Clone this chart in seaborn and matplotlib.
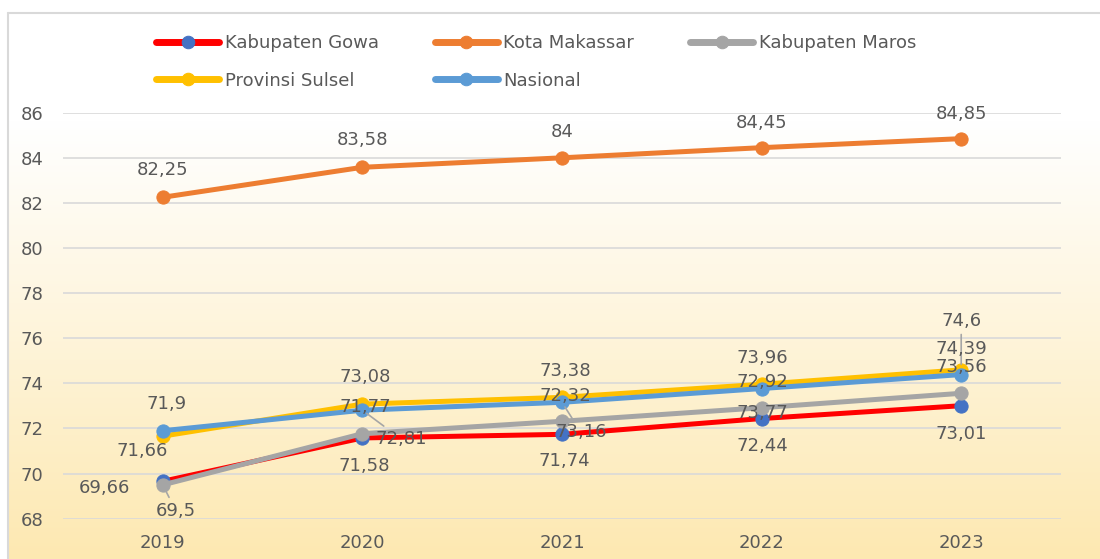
import numpy as np
import pandas as pd
import matplotlib
matplotlib.use("Agg")
import matplotlib.pyplot as plt
from matplotlib.colors import to_rgb
import seaborn as sns

# ---------------- data ----------------
years = ["2019", "2020", "2021", "2022", "2023"]
series_names = ["Kabupaten Gowa", "Kota Makassar", "Kabupaten Maros",
                "Provinsi Sulsel", "Nasional"]
gowa = [69.66, 71.58, 71.74, 72.44, 73.01]
makassar = [82.25, 83.58, 84.00, 84.45, 84.85]
maros = [69.50, 71.77, 72.32, 72.92, 73.56]
sulsel = [71.66, 73.08, 73.38, 73.96, 74.60]
nasional = [71.90, 72.81, 73.16, 73.77, 74.39]
y_ticks = [68, 70, 72, 74, 76, 78, 80, 82, 84, 86]

values = {
    "Kabupaten Gowa": gowa,
    "Kota Makassar": makassar,
    "Kabupaten Maros": maros,
    "Provinsi Sulsel": sulsel,
    "Nasional": nasional,
}

# ---------------- styles ----------------
line_colors = {
    "Kabupaten Gowa": "#FF0000",
    "Kota Makassar": "#ED7D31",
    "Kabupaten Maros": "#A5A5A5",
    "Provinsi Sulsel": "#FFC000",
    "Nasional": "#5B9BD5",
}
marker_colors = {
    "Kabupaten Gowa": "#4472C4",
    "Kota Makassar": "#ED7D31",
    "Kabupaten Maros": "#A5A5A5",
    "Provinsi Sulsel": "#FFC000",
    "Nasional": "#5B9BD5",
}
# data-label offsets in screen pixels (dx right, dy down)
label_offsets = {
    "Kabupaten Gowa": [(-58, 7), (2, 28), (2, 27), (1, 27), (0, 28)],
    "Kota Makassar": [(0, -27), (0, -27), (0, -26), (0, -25), (0, -25)],
    "Kabupaten Maros": [(13, 26), (3, -27), (3, -25), (1, -26), (0, -26)],
    "Provinsi Sulsel": [(-21, 15), (3, -27), (3, -26), (1, -26), (0, -49)],
    "Nasional": [(4, -27), (39, 29), (19, 30), (1, 24), (0, -26)],
}
leader = {("Kabupaten Maros", 0), ("Nasional", 1), ("Nasional", 2),
          ("Provinsi Sulsel", 4)}

TEXT = "#595959"
FS = 13

sns.set_theme(style="white")
plt.rcParams["font.family"] = ["DejaVu Sans"]

W, H = 1100, 559
fig = plt.figure(figsize=(W / 100, H / 100), dpi=100)
fig.patch.set_facecolor("white")

# ---------- background (gradient + frame) ----------
bg = fig.add_axes([0, 0, 1, 1], zorder=-5)
bg.set_xlim(0, W)
bg.set_ylim(H, 0)
bg.axis("off")
rows = np.arange(13, H)
t = np.clip((rows - 120) / (H - 120), 0, 1) ** 1.05
top_c = np.array(to_rgb("#FFFFFF"))
bot_c = np.array(to_rgb("#FDE8B0"))
grad = top_c[None, :] * (1 - t[:, None]) + bot_c[None, :] * t[:, None]
grad = np.repeat(grad[:, None, :], 2, axis=1)
bg.imshow(grad, extent=[8, W + 20, H + 5, 13], aspect="auto",
          interpolation="bilinear")
bg.set_xlim(0, W)
bg.set_ylim(H, 0)
bg.plot([8, W + 20], [13, 13], color="#D9D9D9", lw=1.5)
bg.plot([8, 8], [13, H + 5], color="#D9D9D9", lw=1.5)

# ---------- main axes ----------
left, right, top, bottom = 63, 1061, 112.7, 518.7
ax = fig.add_axes([left / W, 1 - bottom / H, (right - left) / W, (bottom - top) / H])
ax.set_facecolor("none")

xpos = np.arange(len(years))
for name in series_names:
    df = pd.DataFrame({"x": xpos, "y": values[name]})
    sns.lineplot(data=df, x="x", y="y", ax=ax, color=line_colors[name],
                 linewidth=3.6, marker="o", markersize=9.5,
                 markerfacecolor=marker_colors[name],
                 markeredgecolor=marker_colors[name],
                 label=name, legend=False)

ax.set_xlim(-0.5, len(years) - 0.5)
ax.set_ylim(68, 86)
ax.set_xticks(xpos)
ax.set_xticklabels(years)
ax.set_yticks(y_ticks)
ax.set_yticklabels([str(v) for v in y_ticks])
ax.set_xlabel("")
ax.set_ylabel("")
ax.tick_params(axis="both", length=0, labelsize=FS, labelcolor=TEXT)
ax.tick_params(axis="y", pad=14)
ax.tick_params(axis="x", pad=11)
ax.grid(axis="y", color="#D9D9D9", lw=1.2)
ax.grid(axis="x", visible=False)
for s in ax.spines.values():
    s.set_visible(False)

# ---------- data labels ----------
for name in series_names:
    for i, v in enumerate(values[name]):
        dx, dy = label_offsets[name][i]
        txt = f"{v:g}".replace(".", ",")
        kw = {}
        if (name, i) in leader:
            kw["arrowprops"] = dict(arrowstyle="-", color="#A6A6A6", lw=1.2,
                                    shrinkA=1, shrinkB=4)
        ax.annotate(txt, xy=(xpos[i], v), xytext=(dx, -dy),
                    textcoords="offset pixels", ha="center", va="center",
                    fontsize=FS, color=TEXT, zorder=10, annotation_clip=False,
                    **kw)

# ---------- legend ----------
handles, labels = ax.get_legend_handles_labels()
hmap = dict(zip(labels, handles))
order = ["Kabupaten Gowa", "Provinsi Sulsel", "Kota Makassar", "Nasional",
         "Kabupaten Maros"]
leg = fig.legend([hmap[n] for n in order], order, ncol=3, loc="upper left",
                 bbox_to_anchor=(156 / W, 1 - 34 / H), frameon=False,
                 fontsize=FS, handlelength=3.5, handletextpad=0.3,
                 columnspacing=3.1, labelspacing=1.08, borderpad=0,
                 borderaxespad=0)
for txt in leg.get_texts():
    txt.set_color(TEXT)
for h in leg.legend_handles:
    h.set_linewidth(5)
    h.set_markersize(9)

fig.savefig("out.png", dpi=100)
